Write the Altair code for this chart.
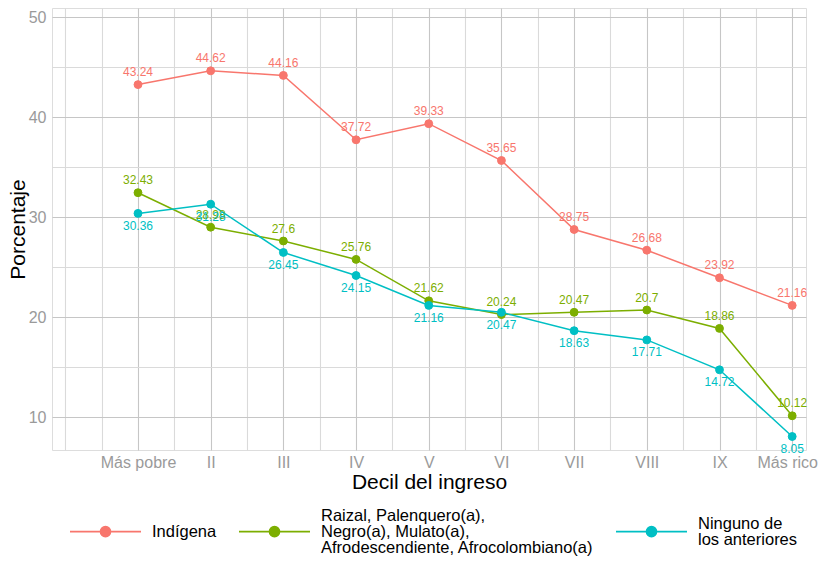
import json
import altair as alt
import pandas as pd

deciles = ["Más pobre", "II", "III", "IV", "V", "VI", "VII", "VIII", "IX", "Más rico"]
legend_lines = [
    ["Indígena"],
    ["Raizal, Palenquero(a),", "Negro(a), Mulato(a),", "Afrodescendiente, Afrocolombiano(a)"],
    ["Ninguno de", "los anteriores"],
]
groups = [" ".join(l) for l in legend_lines]
colors = ["#F8766D", "#7CAE00", "#00BFC4"]

indigena = [43.24, 44.62, 44.16, 37.72, 39.33, 35.65, 28.75, 26.68, 23.92, 21.16]
afro = [32.43, 28.98, 27.6, 25.76, 21.62, 20.24, 20.47, 20.7, 18.86, 10.12]
ninguno = [30.36, 31.28, 26.45, 24.15, 21.16, 20.47, 18.63, 17.71, 14.72, 8.05]
series = [indigena, afro, ninguno]
label_side = ["above", "above", "below"]

rows = []
for g, vals, side in zip(groups, series, label_side):
    for i, v in enumerate(vals):
        rows.append({"idx": i + 1, "grupo": g, "valor": v, "label": str(v), "side": side})
df = pd.DataFrame(rows)

x_values = [0] + [v / 2 for v in range(1, 21)]
y_values = list(range(10, 51, 5))
arr = "[''," + ",".join("'" + d + "'" for d in deciles) + "]"
x_label_expr = f"datum.value % 1 == 0 ? {arr}[datum.value] : ''"

font = "Liberation Sans"
legend_lh = 16

groups_js = json.dumps(groups, ensure_ascii=False)
legend_label_expr = json.dumps(legend_lines, ensure_ascii=False) + f"[indexof({groups_js}, datum.value)]"
# one, two or three lines: shift the first line so each block is centred on its symbol
counts_js = json.dumps([len(l) for l in legend_lines])
legend_baseline_expr = f"['top', 'middle', 'bottom'][{counts_js}[indexof({groups_js}, datum.value)] - 1]"

x = alt.X(
    "idx:Q",
    scale=alt.Scale(domain=[-0.183, 10.19], nice=False, zero=False),
    axis=alt.Axis(
        values=x_values,
        labelExpr=x_label_expr,
        title="Decil del ingreso",
        ticks=False,
        domain=False,
        labelPadding=4,
        titlePadding=1,
        labelFontSize=16,
        labelColor="#9a9a9a",
        labelFont=font,
        titleFont=font,
        titleFontSize=21,
        titleFontWeight="normal",
        titleColor="#000000",
        labelOverlap=False,
        labelBound=False,
        labelOffset={"condition": {"test": "datum.value == 10", "value": -5}, "value": 0},
        gridColor={"condition": {"test": "datum.value % 1 == 0 && datum.value > 0", "value": "#c6c6c6"}, "value": "#dadada"},
        gridWidth=1.1,
    ),
)
y = alt.Y(
    "valor:Q",
    scale=alt.Scale(domain=[6.7, 50.9], nice=False, zero=False),
    axis=alt.Axis(
        values=y_values,
        labelExpr="datum.value % 10 == 0 ? datum.value : ''",
        title="Porcentaje",
        ticks=False,
        domain=False,
        labelPadding=6,
        titlePadding=0,
        labelFontSize=16,
        labelColor="#9a9a9a",
        labelFont=font,
        titleFont=font,
        titleFontSize=21,
        titleFontWeight="normal",
        titleColor="#000000",
        gridColor={"condition": {"test": "datum.value % 10 == 0", "value": "#c6c6c6"}, "value": "#dadada"},
        gridWidth=1.1,
    ),
)

scale = alt.Scale(domain=groups, range=colors)
# symbol drawn 8px below the label anchor; invisible moves give equal entry bounds
s = 0.2254
sym_path = (
    f"M0,-1.4M0,1.4M-1,{s}L1,{s}"
    f"M-0.14,{s}A0.14,0.14,0,1,1,0.14,{s}A0.14,0.14,0,1,1,-0.14,{s}Z"
)
legend = alt.Legend(
    title=None,
    orient="none",
    legendX=17,
    legendY=479,
    direction="horizontal",
    symbolType=sym_path,
    symbolSize=5041,
    symbolStrokeWidth=1.8,
    labelExpr=legend_label_expr,
    labelBaseline=alt.ExprRef(expr=legend_baseline_expr),
    labelFont=font,
    labelFontSize=16.5,
    labelColor="#000000",
    labelLimit=400,
    labelOffset=10,
    columnPadding=18,
    padding=0,
)

base = alt.Chart(df)
line = base.mark_line(strokeWidth=1.5).encode(
    x=x, y=y, stroke=alt.Stroke("grupo:N", scale=scale, legend=legend, sort=groups)
)
pts = base.mark_circle(size=62, opacity=1, strokeWidth=1).encode(
    x=x,
    y=y,
    fill=alt.Fill("grupo:N", scale=scale, legend=legend, sort=groups),
    stroke=alt.Stroke("grupo:N", scale=scale, legend=legend, sort=groups),
)
txt_above = base.transform_filter("datum.side == 'above'").mark_text(
    dy=-12.5, fontSize=12, font=font, baseline="middle"
).encode(x=x, y=y, text="label:N", color=alt.Color("grupo:N", scale=scale, legend=None))
txt_below = base.transform_filter("datum.side == 'below'").mark_text(
    dy=12.5, fontSize=12, font=font, baseline="middle"
).encode(x=x, y=y, text="label:N", color=alt.Color("grupo:N", scale=scale, legend=None))

chart = (
    alt.layer(line, pts, txt_above, txt_below)
    .properties(
        width=754,
        height=442,
        autosize=alt.AutoSizeParams(type="none"),
        padding={"left": 44, "top": 0, "right": 12, "bottom": 107},
    )
    .configure_view(strokeWidth=0)
    .configure(background="white", style={"guide-label": {"lineHeight": legend_lh}})
)

chart.save("out.html", embed_options={"renderer": "svg", "actions": False})
